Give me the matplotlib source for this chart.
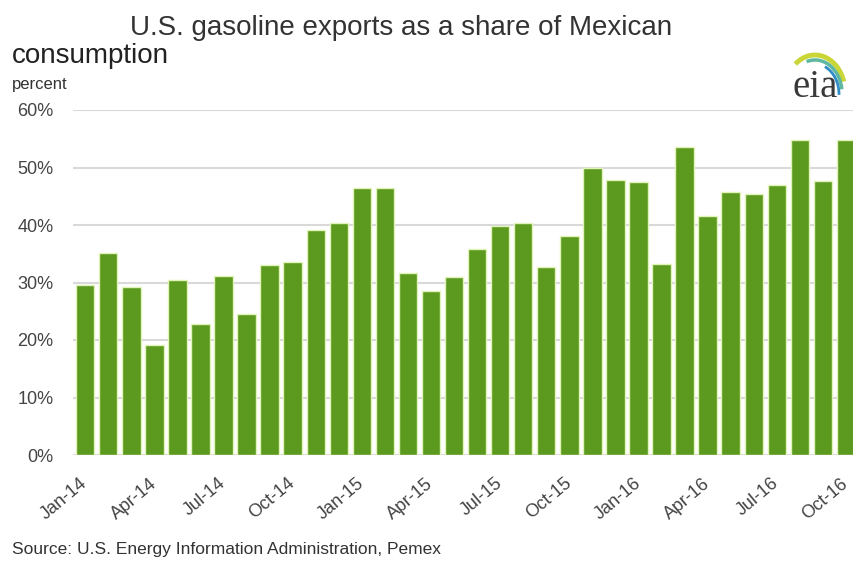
import matplotlib.pyplot as plt
from matplotlib.patches import Arc

# monthly values, Jan-14 .. Oct-16 (percent)
months = [
    "Jan-14", "Feb-14", "Mar-14", "Apr-14", "May-14", "Jun-14", "Jul-14", "Aug-14",
    "Sep-14", "Oct-14", "Nov-14", "Dec-14", "Jan-15", "Feb-15", "Mar-15", "Apr-15",
    "May-15", "Jun-15", "Jul-15", "Aug-15", "Sep-15", "Oct-15", "Nov-15", "Dec-15",
    "Jan-16", "Feb-16", "Mar-16", "Apr-16", "May-16", "Jun-16", "Jul-16", "Aug-16",
    "Sep-16", "Oct-16",
]
share = [
    29.6, 35.1, 29.3, 19.2, 30.4, 22.7, 31.1, 24.6, 33.0, 33.5, 39.1, 40.4,
    46.5, 46.5, 31.7, 28.5, 30.9, 35.8, 39.9, 40.4, 32.7, 38.1, 50.0, 47.8,
    47.4, 33.3, 53.6, 41.6, 45.7, 45.4, 47.0, 54.7, 47.6, 54.7,
]
yticks = [0, 10, 20, 30, 40, 50, 60]

BAR = "#5b9a1f"
FONT = ["Liberation Sans", "DejaVu Sans"]
plt.rcParams["font.family"] = FONT

W, H = 854, 564
fig = plt.figure(figsize=(W / 100, H / 100), dpi=100)
ax = fig.add_axes([73 / W, (H - 455) / H, (W - 73) / W, 345 / H])

x = list(range(len(share)))
ax.bar(x, share, width=0.8, color=BAR, edgecolor="#e2f3b8", linewidth=1.0, zorder=3)

ax.set_ylim(0, 60)
ax.set_xlim(-0.53, 33.35)
ax.set_yticks(yticks)
ax.set_yticklabels([f"{v}%" for v in yticks], fontsize=13, color="#444444")
ax.yaxis.grid(True, color="#d9d9d9", linewidth=1.5, zorder=0)
ax.tick_params(axis="y", length=0, pad=14)

ax.set_xticks(x[::3])
ax.set_xticklabels(months[::3], rotation=40, ha="right", va="center",
                   rotation_mode="anchor", fontsize=13, color="#444444")
ax.tick_params(axis="x", length=0, pad=19)

for s in ax.spines.values():
    s.set_visible(False)

# title, unit, source
fig.text(130 / W, 1 - 35 / H, "U.S. gasoline exports as a share of Mexican",
         fontsize=20, color="#333333", va="baseline")
fig.text(12 / W, 1 - 63 / H, "consumption", fontsize=20, color="#222222", va="baseline")
fig.text(12 / W, 1 - 89 / H, "percent", fontsize=12, color="#333333", va="baseline")
fig.text(12 / W, 1 - 554 / H, "Source: U.S. Energy Information Administration, Pemex",
         fontsize=12.5, color="#333333", va="baseline")

# eia logo
lg = fig.add_axes([770 / W, (H - 105) / H, 84 / W, 65 / H])
lg.set_xlim(770, 854)
lg.set_ylim(105, 40)
lg.axis("off")
lg.add_patch(Arc((815, 92), 60, 74, theta1=-125, theta2=-20, color="#c9d636", lw=3.5))
lg.add_patch(Arc((815, 93), 54, 66, theta1=-105, theta2=-8, color="#5fb7a2", lw=2.5))
lg.add_patch(Arc((815, 94), 48, 60, theta1=-70, theta2=2, color="#2f8cc6", lw=2))
lg.text(815, 97, "eia", fontsize=28, family=["Liberation Serif", "DejaVu Serif"],
        color="#3a3a3a", ha="center", va="baseline")

fig.savefig("out.png", dpi=100)
